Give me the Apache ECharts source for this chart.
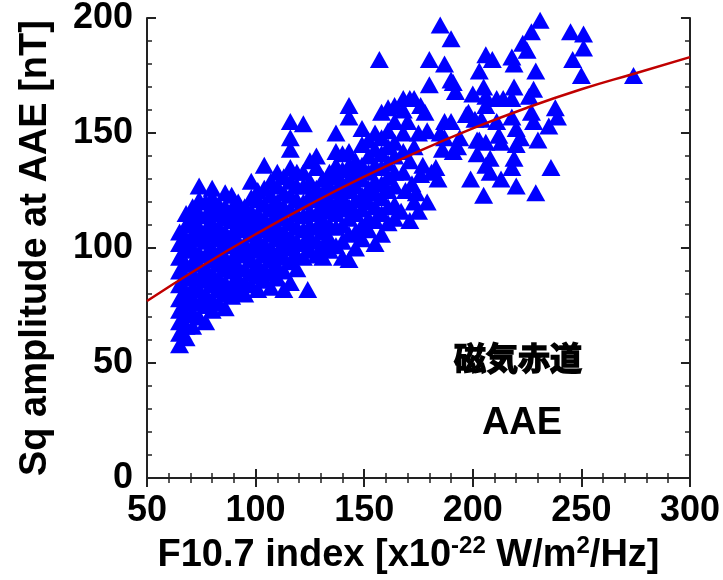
<!DOCTYPE html>
<html>
<head>
<meta charset="utf-8">
<script src="https://cdn.jsdelivr.net/npm/echarts@6/dist/echarts.min.js"></script>
<style>
html, body { margin: 0; padding: 0; background: #fff; }
#main { width: 723px; height: 580px; }
</style>
</head>
<body>
<div id="main"></div>
<script>
// [F10.7 index, Sq amplitude nT]
var sqPoints = [
    [65,58],[65,63],[65,68],[65,73],[65,78],[65,84],[65,90],[65,96],[65,102],[65,107],
    [68,61],[68,66],[68,71],[68,76],[68,81],[68,87],[68,93],[68,99],[68,104],[68,110],[68,115],
    [71,66],[71,72],[71,78],[71,83],[71,89],[71,94],[71,100],[71,106],[71,112],[71,118],
    [74,70],[74,76],[74,82],[74,87],[74,93],[74,98],[74,104],[74,109],[74,115],[74,121],[74,127],
    [77,68],[77,75],[77,80],[77,86],[77,91],[77,97],[77,103],[77,108],[77,114],[77,120],
    [80,73],[80,78],[80,84],[80,89],[80,95],[80,100],[80,106],[80,111],[80,117],[80,122],[80,126],
    [83,76],[83,82],[83,87],[83,93],[83,98],[83,104],[83,109],[83,115],[83,119],
    [86,74],[86,80],[86,85],[86,91],[86,96],[86,102],[86,107],[86,113],[86,118],[86,124],
    [89,79],[89,84],[89,90],[89,95],[89,101],[89,106],[89,112],[89,117],[89,123],
    [92,81],[92,87],[92,92],[92,98],[92,103],[92,109],[92,114],[92,120],
    [95,80],[95,85],[95,91],[95,97],[95,102],[95,108],[95,113],[95,118],
    [98,84],[98,89],[98,95],[98,100],[98,106],[98,111],[98,116],[98,122],[98,129],
    [101,82],[101,88],[101,93],[101,99],[101,104],[101,110],[101,115],[101,121],[101,125],
    [104,86],[104,91],[104,97],[104,102],[104,108],[104,113],[104,119],[104,126],[104,136],
    [107,83],[107,89],[107,95],[107,100],[107,106],[107,111],[107,117],[107,123],[107,129],
    [110,87],[110,92],[110,98],[110,104],[110,109],[110,115],[110,120],[110,127],[110,133],
    [113,82],[113,90],[113,96],[113,101],[113,107],[113,113],[113,118],[113,124],[113,131],
    [116,85],[116,94],[116,100],[116,105],[116,111],[116,117],[116,123],[116,129],[116,135],[116,143],[116,148],[116,155],
    [119,91],[119,97],[119,103],[119,109],[119,115],[119,121],[119,127],[119,133],
    [124,82],
    [122,96],[122,102],[122,108],[122,114],[122,120],[122,127],[122,133],[122,154],
    [125,99],[125,105],[125,110],[125,116],[125,123],[125,129],[125,138],
    [128,97],[128,103],[128,109],[128,115],[128,121],[128,126],[128,135],[128,140],
    [131,96],[131,101],[131,107],[131,112],[131,118],[131,124],[131,130],
    [134,99],[134,104],[134,110],[134,116],[134,121],[134,127],[134,133],
    [137,101],[137,109],[137,115],[137,119],[137,125],[137,131],[137,136],[137,142],[137,150],
    [140,96],[140,103],[140,110],[140,117],[140,122],[140,128],[140,134],[140,141],
    [143,95],[143,106],[143,113],[143,118],[143,125],[143,130],[143,136],[143,142],[143,157],[143,162],
    [146,100],[146,107],[146,115],[146,121],[146,127],[146,133],[146,138],
    [149,104],[149,110],[149,117],[149,123],[149,130],[149,136],[149,145],[149,152],
    [152,108],[152,113],[152,120],[152,126],[152,133],[152,140],[152,147],
    [155,102],[155,112],[155,118],[155,124],[155,129],[155,136],[155,143],[155,150],
    [158,106],[158,115],[158,122],[158,128],[158,135],[158,141],[158,148],[158,159],
    [161,111],[161,118],[161,125],[161,131],[161,137],[161,144],[161,151],[161,161],
    [164,113],[164,119],[164,127],[164,133],[164,140],[164,146],[164,155],[164,162],
    [157,182],
    [167,116],[171,112],[175,116],[173,120],[179,120],[169,125],[174,124],[168,133],[172,128],
    [176,132],[171,138],[177,136],[168,142],[173,144],[168,150],[175,150],[170,155],[179,151],
    [178,159],[176,162],[171,165],[168,160],[168,165],[173,165],
    [181,133],[184,130],[183,135],[186,143],[191,142],[187,148],[194,148],[193,144],[187,155],
    [197,158],[201,156],[202,141],[202,147],[199,130],[180,171],[190,173],[192,168],[191,172],
    [180,182],[187,180],[185,197],[190,191],[200,167],[198,159],[190,155],[185,150],
    [203,147],[206,146],[213,146],[212,149],[222,148],[230,147],[208,139],[219,139],[218,135],
    [208,133],[206,136],[213,130],[220,127],[229,124],[205,123],[236,135],[228,155],[235,153],
    [239,157],[238,161],[227,159],[218,157],[220,152],[211,155],[204,156],[214,165],[206,166],
    [211,165],[218,165],[226,166],[228,169],[219,170],[205,170],[206,162],[220,145],
    [203,177],[209,182],[206,184],[218,183],[219,180],[223,189],[225,186],[227,194],[231,199],
    [229,177],[245,194],[251,193],[251,187],[246,182],[250,175],[274,175]
];

// red fitted curve
var fitF107 = [50, 75, 100, 125, 150, 175, 200, 225, 250, 275, 300];
var fitSq = [77, 92, 106, 119, 131, 142, 152, 161, 169, 176, 183];

var fontFam = '"Liberation Sans", Arial, sans-serif';

var myCharts = echarts.init(document.getElementById('main'));

var axisLineStyle = { color: '#222', width: 2 };
var tickStyle = { show: true, inside: true, length: 9, lineStyle: { color: '#222', width: 2 } };
var minorStyle = { show: true, splitNumber: 5, length: 5, lineStyle: { color: '#222', width: 1.5 } };
var labelStyle = { fontSize: 36, fontWeight: 'bold', fontFamily: fontFam, color: '#000' };

var options = {
    animation: false,
    grid: { left: 147, right: 33, top: 10, bottom: 99 },
    xAxis: [
        {
            type: 'value', min: 50, max: 300, interval: 50,
            position: 'bottom',
            axisLine: { show: true, lineStyle: axisLineStyle },
            axisTick: tickStyle,
            minorTick: minorStyle,
            splitLine: { show: false },
            axisLabel: Object.assign({ margin: 15 }, labelStyle),
            name: '{n|F10.7 index [x10}{s|-22}{n| W/m}{s|2}{n|/Hz]}',
            nameLocation: 'middle',
            nameGap: 51,
            nameTextStyle: {
                padding: [0, 20, 0, 0],
                rich: {
                    n: { fontSize: 38, fontWeight: 'bold', fontFamily: fontFam, color: '#000', lineHeight: 44 },
                    s: { fontSize: 24, fontWeight: 'bold', fontFamily: fontFam, color: '#000', lineHeight: 24, verticalAlign: 'top' }
                }
            }
        },
        {
            type: 'value', min: 50, max: 300, interval: 50,
            position: 'top',
            axisLine: { show: true, lineStyle: axisLineStyle },
            axisTick: tickStyle,
            minorTick: minorStyle,
            splitLine: { show: false },
            axisLabel: { show: false }
        }
    ],
    yAxis: [
        {
            type: 'value', min: 0, max: 200, interval: 50,
            position: 'left',
            axisLine: { show: true, lineStyle: axisLineStyle },
            axisTick: tickStyle,
            minorTick: minorStyle,
            splitLine: { show: false },
            axisLabel: Object.assign({ margin: 14 }, labelStyle),
            name: 'Sq amplitude at AAE [nT]',
            nameLocation: 'middle',
            nameGap: 92,
            nameTextStyle: { fontSize: 38, fontWeight: 'bold', fontFamily: fontFam, color: '#000' }
        },
        {
            type: 'value', min: 0, max: 200, interval: 50,
            position: 'right',
            axisLine: { show: true, lineStyle: axisLineStyle },
            axisTick: tickStyle,
            minorTick: minorStyle,
            splitLine: { show: false },
            axisLabel: { show: false }
        }
    ],
    graphic: [
        {
            type: 'text', x: 518, y: 358,
            style: { text: '磁気赤道', fill: '#000', stroke: '#000', lineWidth: 1.6,
                align: 'center', verticalAlign: 'middle',
                fontSize: 32, fontWeight: 'bold', fontFamily: '"Noto Sans CJK JP"' }
        },
        {
            type: 'text', x: 522, y: 424,
            style: { text: 'AAE', fill: '#000', align: 'center', verticalAlign: 'middle',
                fontSize: 38, fontWeight: 'bold', fontFamily: fontFam }
        }
    ],
    series: [
        {
            name: 'Sq',
            type: 'scatter',
            symbol: 'triangle',
            symbolSize: [19, 17],
            itemStyle: { color: '#0000ff', opacity: 1 },
            data: sqPoints
        },
        {
            name: 'fit',
            type: 'line',
            smooth: true,
            symbol: 'none',
            z: 5,
            lineStyle: { color: '#c00000', width: 2.5 },
            data: fitF107.map(function (x, i) { return [x, fitSq[i]]; })
        }
    ]
};

myCharts.setOption(options);
</script>
</body>
</html>
